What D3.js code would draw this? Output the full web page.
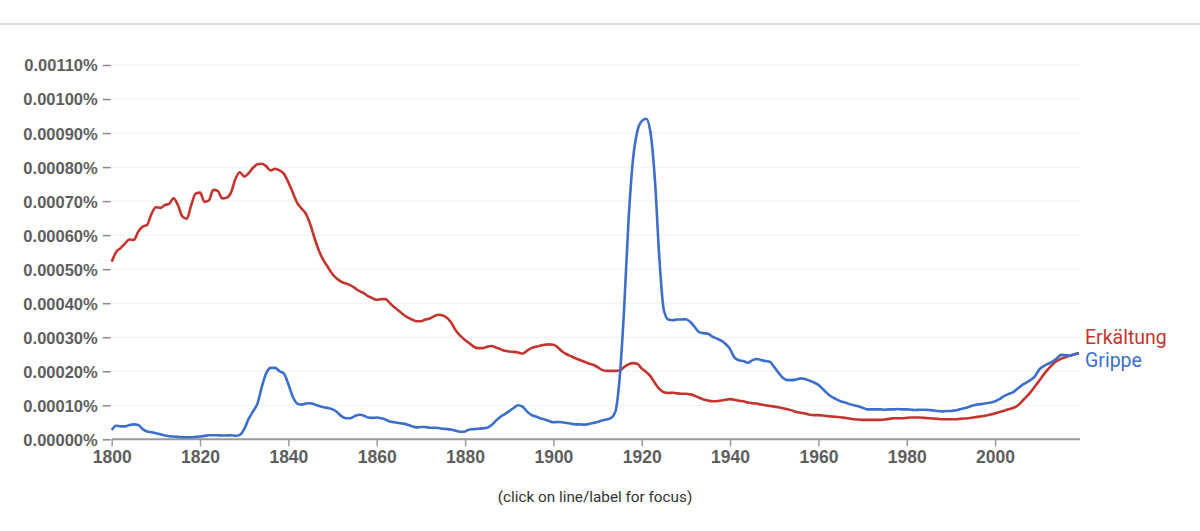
<!DOCTYPE html>
<html>
<head>
<meta charset="utf-8">
<script src="https://cdn.jsdelivr.net/npm/d3@7"></script>
<style>
  body { margin: 0; background: #fff; }
  svg { display: block; font-family: Roboto, "Noto Sans", sans-serif; }
</style>
</head>
<body>
<svg id="chart" width="1200" height="531"></svg>
<script>
// years 1800..2019, one value per year, in units of 0.0001 %
const firstYear = 1800
const erkaeltung = [
  5.22, 5.50, 5.62, 5.75, 5.87, 5.86, 6.10, 6.25, 6.30, 6.62,
  6.82, 6.80, 6.88, 6.92, 7.08, 6.88, 6.55, 6.48, 6.88, 7.22,
  7.25, 6.98, 7.02, 7.33, 7.30, 7.08, 7.10, 7.25, 7.65, 7.85,
  7.72, 7.82, 7.98, 8.08, 8.10, 8.02, 7.90, 7.95, 7.90, 7.80,
  7.55, 7.25, 6.95, 6.78, 6.62, 6.30, 5.88, 5.52, 5.25, 5.05,
  4.85, 4.72, 4.63, 4.58, 4.53, 4.45, 4.36, 4.30, 4.21, 4.15,
  4.10, 4.12, 4.12, 4.00, 3.88, 3.78, 3.67, 3.58, 3.52, 3.47,
  3.47, 3.52, 3.55, 3.62, 3.66, 3.64, 3.56, 3.40, 3.18, 3.03,
  2.92, 2.82, 2.72, 2.68, 2.68, 2.72, 2.74, 2.70, 2.65, 2.60,
  2.58, 2.57, 2.55, 2.52, 2.60, 2.68, 2.72, 2.75, 2.78, 2.79,
  2.78, 2.70, 2.58, 2.50, 2.44, 2.38, 2.33, 2.28, 2.23, 2.19,
  2.12, 2.04, 2.01, 2.01, 2.01, 2.02, 2.12, 2.20, 2.24, 2.22,
  2.08, 1.98, 1.85, 1.65, 1.48, 1.38, 1.36, 1.37, 1.35, 1.34,
  1.34, 1.32, 1.28, 1.22, 1.17, 1.14, 1.12, 1.12, 1.14, 1.16,
  1.18, 1.16, 1.13, 1.12, 1.08, 1.06, 1.05, 1.02, 1.00, 0.98,
  0.96, 0.94, 0.91, 0.88, 0.85, 0.80, 0.78, 0.76, 0.72, 0.71,
  0.71, 0.70, 0.68, 0.67, 0.66, 0.65, 0.63, 0.61, 0.59, 0.58,
  0.57, 0.57, 0.57, 0.57, 0.57, 0.58, 0.60, 0.62, 0.62, 0.62,
  0.63, 0.64, 0.64, 0.64, 0.63, 0.62, 0.61, 0.60, 0.59, 0.59,
  0.59, 0.59, 0.60, 0.61, 0.62, 0.64, 0.66, 0.68, 0.70, 0.73,
  0.76, 0.80, 0.84, 0.88, 0.92, 0.98, 1.10, 1.24, 1.38, 1.55,
  1.72, 1.90, 2.06, 2.20, 2.30, 2.37, 2.42, 2.46, 2.50, 2.54
]
const grippe = [
  0.27, 0.40, 0.38, 0.38, 0.42, 0.44, 0.42, 0.30, 0.23, 0.21,
  0.18, 0.15, 0.11, 0.09, 0.08, 0.07, 0.06, 0.06, 0.06, 0.07,
  0.08, 0.10, 0.12, 0.12, 0.12, 0.11, 0.11, 0.12, 0.10, 0.13,
  0.30, 0.60, 0.82, 1.05, 1.55, 1.95, 2.10, 2.10, 2.00, 1.93,
  1.62, 1.25, 1.05, 1.02, 1.05, 1.06, 1.02, 0.98, 0.94, 0.92,
  0.88, 0.80, 0.68, 0.62, 0.62, 0.68, 0.72, 0.70, 0.64, 0.63,
  0.64, 0.62, 0.58, 0.52, 0.50, 0.48, 0.46, 0.43, 0.38, 0.35,
  0.36, 0.36, 0.34, 0.34, 0.33, 0.31, 0.30, 0.28, 0.25, 0.22,
  0.23, 0.29, 0.30, 0.31, 0.32, 0.34, 0.42, 0.55, 0.66, 0.74,
  0.83, 0.92, 1.00, 0.96, 0.82, 0.72, 0.67, 0.62, 0.58, 0.54,
  0.50, 0.51, 0.50, 0.48, 0.46, 0.44, 0.44, 0.43, 0.45, 0.48,
  0.51, 0.55, 0.58, 0.62, 0.80, 1.80, 3.80, 6.40, 8.20, 9.05,
  9.35, 9.42, 9.00, 7.60, 5.30, 3.80, 3.52, 3.50, 3.52, 3.52,
  3.53, 3.45, 3.30, 3.15, 3.12, 3.10, 3.02, 2.96, 2.90, 2.80,
  2.65, 2.40, 2.32, 2.30, 2.25, 2.32, 2.36, 2.33, 2.30, 2.28,
  2.12, 1.95, 1.80, 1.74, 1.74, 1.76, 1.79, 1.77, 1.72, 1.67,
  1.60, 1.48, 1.35, 1.25, 1.18, 1.12, 1.08, 1.04, 1.00, 0.97,
  0.93, 0.88, 0.88, 0.88, 0.88, 0.87, 0.88, 0.88, 0.89, 0.88,
  0.88, 0.87, 0.86, 0.87, 0.87, 0.86, 0.85, 0.83, 0.82, 0.83,
  0.83, 0.85, 0.88, 0.91, 0.95, 0.99, 1.02, 1.04, 1.06, 1.08,
  1.12, 1.18, 1.27, 1.33, 1.38, 1.48, 1.58, 1.66, 1.74, 1.85,
  2.05, 2.15, 2.22, 2.28, 2.38, 2.48, 2.47, 2.46, 2.50, 2.52
]
const yTicks = [0, 1, 2, 3, 4, 5, 6, 7, 8, 9, 10, 11]
const xTicks = [1800, 1820, 1840, 1860, 1880, 1900, 1920, 1940, 1960, 1980, 2000]
const seriesNames = ['Erkältung', 'Grippe']
const seriesColors = ['#c5352f', '#3b6fcb']

const svg = d3.select('#chart')
const plotLeft = 111.7, plotRight = 1079, plotTop = 65, plotBottom = 439.3

const xScale = d3.scaleLinear().domain([1800, 2019]).range([plotLeft, plotRight])
const yScale = d3.scaleLinear().domain([0, 11]).range([plotBottom, plotTop])

// top separator
svg.append('line')
  .attr('x1', 0).attr('x2', 1200).attr('y1', 24).attr('y2', 24)
  .style('stroke', '#dcdcdc').style('stroke-width', 2)

// gridlines
svg.append('g').selectAll('line')
  .data(yTicks.slice(1))
  .join('line')
  .attr('x1', plotLeft).attr('x2', plotRight + 1)
  .attr('y1', d => yScale(d)).attr('y2', d => yScale(d))
  .style('stroke', '#f0f0f0').style('stroke-width', 1)

// y axis: labels and short dashes, no domain line
const yAxis = d3.axisLeft(yScale)
  .tickValues(yTicks)
  .tickSize(8)
  .tickPadding(5)
  .tickFormat(d => d3.format('.5f')(d / 10000) + '%')
const yg = svg.append('g')
  .attr('transform', `translate(${plotLeft - 1},0)`)
  .call(yAxis)
yg.select('.domain').remove()
yg.selectAll('.tick line').style('stroke', '#8a8a8a').style('stroke-width', 1.5)
yg.selectAll('.tick text')
  .style('font-size', '16.5px').style('font-weight', 600).style('fill', '#5e5e5e')
  .attr('dy', '0.36em')

// x axis
const xAxis = d3.axisBottom(xScale).tickValues(xTicks).tickSize(7).tickPadding(4)
  .tickFormat(d3.format('d'))
const xg = svg.append('g')
  .attr('transform', `translate(0,${plotBottom})`)
  .call(xAxis)
xg.select('.domain')
  .attr('d', `M${plotLeft},0H${plotRight + 1}`)
  .style('stroke', '#999').style('stroke-width', 2)
xg.selectAll('.tick line').style('stroke', '#999').style('stroke-width', 1.5)
xg.selectAll('.tick text')
  .style('font-size', '17.5px').style('font-weight', 600).style('fill', '#5e5e5e')

// lines
const line = d3.line()
  .x((d, i) => xScale(firstYear + i))
  .y(d => yScale(d))
  .curve(d3.curveMonotoneX)

const seriesData = [erkaeltung, grippe]
svg.append('g').selectAll('path')
  .data(seriesData)
  .join('path')
  .attr('d', line)
  .style('fill', 'none')
  .style('stroke', (d, i) => seriesColors[i])
  .style('stroke-width', 2.6)
  .style('stroke-linejoin', 'round')

// end labels
const labelOffset = [-9, 13]
svg.append('g').selectAll('text')
  .data(seriesNames)
  .join('text')
  .attr('x', plotRight + 6)
  .attr('y', (d, i) => yScale(seriesData[i][seriesData[i].length - 1]) + labelOffset[i])
  .style('fill', (d, i) => seriesColors[i])
  .style('font-size', '19.5px')
  .text(d => d)

svg.append('text')
  .attr('x', 595).attr('y', 502)
  .style('text-anchor', 'middle')
  .style('font-size', '15.3px')
  .style('fill', '#333')
  .text('(click on line/label for focus)')
</script>
</body>
</html>
